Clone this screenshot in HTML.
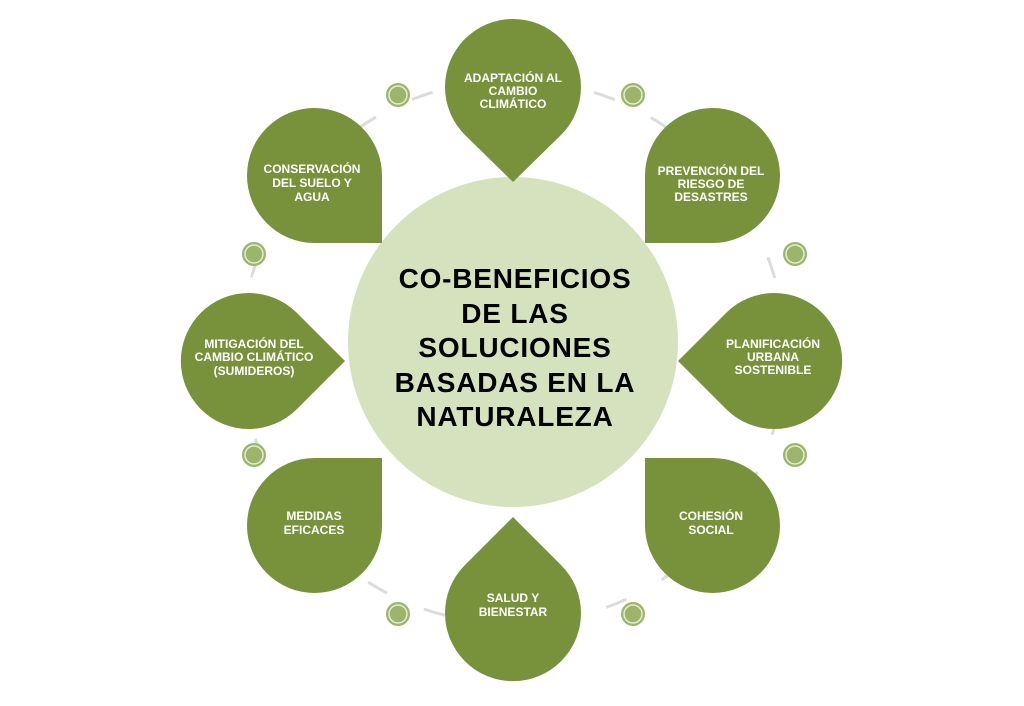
<!DOCTYPE html>
<html><head><meta charset="utf-8"><style>
html,body{margin:0;padding:0;background:#fff;}
svg{display:block}
.p{fill:#77923b}
.t{font-family:"Liberation Sans",sans-serif;font-weight:bold;font-size:12px;fill:#fff;text-anchor:middle}
.c{font-family:"Liberation Sans",sans-serif;font-weight:bold;font-size:28px;fill:#000;text-anchor:middle;letter-spacing:0.8px}
.d{fill:#9cb56b}
.r{fill:none;stroke:#e4edd2;stroke-width:1.5}
</style></head><body>
<svg width="1024" height="706" viewBox="0 0 1024 706">
<circle cx="513" cy="352" r="272" fill="none" stroke="#dcdcdc" stroke-width="3" stroke-dasharray="22 40"/>
<circle cx="513" cy="342" r="165" fill="#d6e2bd"/>
<path class="p" d="M445,87 A68,68 0 0 1 581,87 A68,68 0 0 1 561,135 L513,182 L465,135 A68,68 0 0 1 445,87 Z"/>
<path class="p" d="M513,517 L561,565 A68,68 0 1 1 465,565 Z"/>
<path class="p" d="M345,361 L297,313 A68,68 0 1 0 297,409 Z"/>
<path class="p" d="M678,361 L726,313 A68,68 0 1 1 726,409 Z"/>
<path class="p" d="M382,243 L382,176 A67.5,67.5 0 1 0 314.5,243 Z"/>
<path class="p" d="M645,243 L645,176 A67.5,67.5 0 1 1 712.5,243 Z"/>
<path class="p" d="M382,458 L382,525 A67.5,67.5 0 1 1 314.5,458 Z"/>
<path class="p" d="M645,458 L645,525 A67.5,67.5 0 1 0 712.5,458 Z"/>
<g>
<circle class="d" cx="398" cy="95" r="12"/><circle class="r" cx="398" cy="95" r="9"/>
<circle class="d" cx="633" cy="95" r="12"/><circle class="r" cx="633" cy="95" r="9"/>
<circle class="d" cx="795" cy="254" r="12"/><circle class="r" cx="795" cy="254" r="9"/>
<circle class="d" cx="795" cy="455" r="12"/><circle class="r" cx="795" cy="455" r="9"/>
<circle class="d" cx="633" cy="614" r="12"/><circle class="r" cx="633" cy="614" r="9"/>
<circle class="d" cx="398" cy="614" r="12"/><circle class="r" cx="398" cy="614" r="9"/>
<circle class="d" cx="254" cy="455" r="12"/><circle class="r" cx="254" cy="455" r="9"/>
<circle class="d" cx="254" cy="254" r="12"/><circle class="r" cx="254" cy="254" r="9"/>
</g>
<text class="c" x="515" y="288">CO-BENEFICIOS</text>
<text class="c" x="515" y="323">DE LAS</text>
<text class="c" x="515" y="357">SOLUCIONES</text>
<text class="c" x="515" y="392">BASADAS EN LA</text>
<text class="c" x="515" y="426">NATURALEZA</text>
<text class="t" x="513" y="82">ADAPTACIÓN AL</text><text class="t" x="513" y="95">CAMBIO</text><text class="t" x="513" y="108">CLIMÁTICO</text>
<text class="t" x="711" y="175">PREVENCIÓN DEL</text><text class="t" x="711" y="188">RIESGO DE</text><text class="t" x="711" y="201">DESASTRES</text>
<text class="t" x="773" y="348">PLANIFICACIÓN</text><text class="t" x="773" y="361">URBANA</text><text class="t" x="773" y="374">SOSTENIBLE</text>
<text class="t" x="711" y="520">COHESIÓN</text><text class="t" x="711" y="534">SOCIAL</text>
<text class="t" x="513" y="602">SALUD Y</text><text class="t" x="513" y="616">BIENESTAR</text>
<text class="t" x="314" y="520">MEDIDAS</text><text class="t" x="314" y="534">EFICACES</text>
<text class="t" x="254" y="348">MITIGACIÓN DEL</text><text class="t" x="254" y="361">CAMBIO CLIMÁTICO</text><text class="t" x="254" y="375">(SUMIDEROS)</text>
<text class="t" x="312" y="173">CONSERVACIÓN</text><text class="t" x="312" y="187">DEL SUELO Y</text><text class="t" x="312" y="201">AGUA</text>
</svg>
</body></html>
